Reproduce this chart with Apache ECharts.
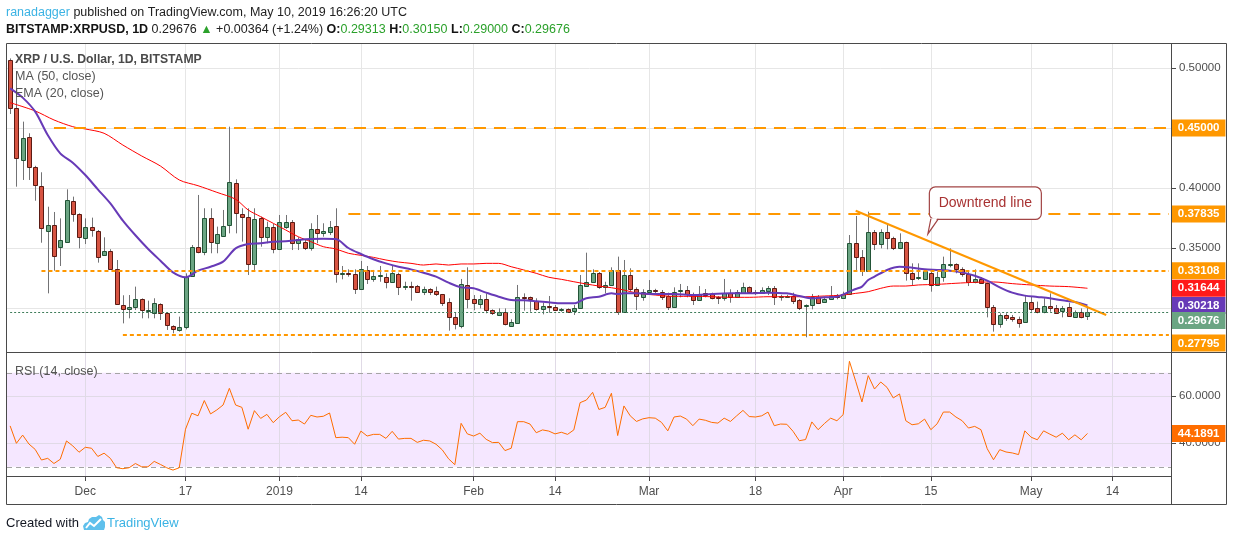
<!DOCTYPE html>
<html>
<head>
<meta charset="utf-8">
<script src="https://cdn.jsdelivr.net/npm/echarts@6/dist/echarts.min.js"></script>
<style>
  html, body { margin: 0; padding: 0; background: #fff; }
  #chart { width: 1234px; height: 541px; }
</style>
</head>
<body>
<div id="chart"></div>
<script>
// daily candles, BITSTAMP XRPUSD, 2018-11-19 .. 2019-05-10
const firstDay = '2018-11-19';
const dayCount = 186; // axis runs on past the last candle to 2019-05-23

const opens = [
  0.5067,0.4664,0.4233,0.4422,0.4178,0.4019,0.3644,0.3692,0.3511,0.3553,
  0.3892,0.3783,0.3581,0.3672,0.3644,0.3442,0.3478,0.3328,0.3025,0.2989,
  0.3011,0.3072,0.2983,0.2956,0.3031,0.2956,0.2850,0.2817,0.2839,0.3267,
  0.3511,0.3464,0.3747,0.3539,0.3600,0.3689,0.4039,0.3783,0.3761,0.3367,
  0.3747,0.3589,0.3672,0.3489,0.3678,0.3714,0.3544,0.3547,0.3503,0.3656,
  0.3622,0.3636,0.3683,0.3281,0.3289,0.3281,0.3156,0.3317,0.3239,0.3269,
  0.3261,0.3219,0.3281,0.3172,0.3183,0.3183,0.3136,0.3158,0.3142,0.3114,
  0.3050,0.2928,0.2850,0.3189,0.3072,0.3031,0.3072,0.2981,0.2944,0.2964,
  0.2853,0.2878,0.3089,0.3089,0.3061,0.2989,0.3017,0.3006,0.2983,0.2989,
  0.2978,0.3003,0.3186,0.3214,0.3289,0.3172,0.3189,0.3317,0.2964,0.3272,
  0.3156,0.3089,0.3131,0.3150,0.3131,0.3100,0.3006,0.3139,0.3150,0.3114,
  0.3064,0.3122,0.3114,0.3089,0.3081,0.3122,0.3094,0.3128,0.3172,0.3136,
  0.3128,0.3144,0.3164,0.3092,0.3094,0.3100,0.3067,0.3017,0.3022,0.3089,
  0.3047,0.3072,0.3106,0.3081,0.3114,0.3539,0.3422,0.3308,0.3631,0.3531,
  0.3631,0.3581,0.3497,0.3547,0.3289,0.3247,0.3244,0.3294,0.3189,0.3256,
  0.3364,0.3364,0.3322,0.3281,0.3219,0.3242,0.3206,0.3011,0.2864,0.2942,
  0.2928,0.2908,0.2881,0.3053,0.3003,0.2964,0.3019,0.2997,0.2975,0.3011,
  0.2928,0.2969,0.29313
];
const highs = [
  0.5080,0.4956,0.4553,0.4456,0.4185,0.4131,0.3844,0.3800,0.3747,0.3989,
  0.3928,0.3789,0.3747,0.3753,0.3650,0.3589,0.3490,0.3400,0.3106,0.3108,
  0.3178,0.3080,0.3061,0.3081,0.3039,0.2961,0.2856,0.2928,0.3289,0.3525,
  0.3942,0.3831,0.3831,0.3678,0.3817,0.4511,0.4072,0.3831,0.3831,0.3831,
  0.3761,0.3719,0.3700,0.3775,0.3775,0.3733,0.3590,0.3572,0.3706,0.3775,
  0.3706,0.3725,0.3831,0.3350,0.3322,0.3322,0.3392,0.3350,0.3317,0.3350,
  0.3289,0.3358,0.3294,0.3219,0.3219,0.3192,0.3178,0.3165,0.3178,0.3117,
  0.3081,0.2961,0.3242,0.3339,0.3108,0.3108,0.3122,0.2989,0.2997,0.2997,
  0.2906,0.3192,0.3122,0.3095,0.3081,0.3044,0.3100,0.3025,0.3000,0.2997,
  0.3025,0.3275,0.3461,0.3322,0.3300,0.3219,0.3339,0.3428,0.3400,0.3331,
  0.3172,0.3156,0.3233,0.3160,0.3150,0.3128,0.3172,0.3200,0.3183,0.3128,
  0.3183,0.3158,0.3128,0.3100,0.3242,0.3156,0.3150,0.3211,0.3180,0.3150,
  0.3172,0.3183,0.3183,0.3110,0.3110,0.3128,0.3075,0.3030,0.3117,0.3108,
  0.3094,0.3183,0.3117,0.3136,0.3608,0.3767,0.3483,0.3803,0.3650,0.3656,
  0.3706,0.3594,0.3622,0.3553,0.3372,0.3372,0.3322,0.3322,0.3303,0.3428,
  0.3497,0.3372,0.3339,0.3311,0.3322,0.3256,0.3211,0.3025,0.2956,0.2956,
  0.2942,0.2928,0.3108,0.3094,0.3053,0.3081,0.3122,0.3025,0.3017,0.3044,
  0.2980,0.2997,0.30150
];
const lows = [
  0.4617,0.4011,0.4067,0.4067,0.3894,0.3544,0.3122,0.3311,0.3350,0.3550,
  0.3719,0.3497,0.3533,0.3594,0.3378,0.3440,0.3320,0.3025,0.2872,0.2914,
  0.2983,0.2914,0.2914,0.2914,0.2900,0.2817,0.2789,0.2803,0.2822,0.3260,
  0.3456,0.3440,0.3456,0.3456,0.3594,0.3622,0.3622,0.3553,0.3275,0.3317,
  0.3511,0.3539,0.3456,0.3483,0.3660,0.3483,0.3483,0.3483,0.3478,0.3539,
  0.3594,0.3608,0.3211,0.3239,0.3261,0.3117,0.3150,0.3200,0.3219,0.3219,
  0.3164,0.3214,0.3108,0.3150,0.3061,0.3128,0.3108,0.3108,0.3100,0.3017,
  0.2811,0.2822,0.2831,0.2997,0.2981,0.2997,0.2956,0.2942,0.2933,0.2855,
  0.2845,0.2867,0.2978,0.2969,0.2978,0.2947,0.2961,0.2975,0.2969,0.2961,
  0.2942,0.2997,0.3180,0.3211,0.3160,0.3122,0.3183,0.2942,0.2960,0.3136,
  0.2983,0.3061,0.3125,0.3108,0.3067,0.2983,0.3000,0.3089,0.3089,0.3025,
  0.3061,0.3089,0.3072,0.3033,0.3061,0.3044,0.3089,0.3122,0.3122,0.3108,
  0.3122,0.3108,0.3025,0.3061,0.3085,0.3033,0.2983,0.2756,0.2989,0.3033,
  0.3044,0.3069,0.3072,0.3078,0.3111,0.3311,0.3267,0.3300,0.3483,0.3497,
  0.3489,0.3483,0.3490,0.3228,0.3192,0.3233,0.3233,0.3136,0.3183,0.3219,
  0.3339,0.3289,0.3261,0.3183,0.3206,0.3200,0.2922,0.2803,0.2836,0.2892,
  0.2886,0.2836,0.2878,0.2969,0.2956,0.2956,0.2969,0.2950,0.2922,0.2928,
  0.2925,0.2914,0.29000
];
const closes = [
  0.4664,0.4247,0.4414,0.4172,0.4025,0.3664,0.3692,0.3433,0.3567,0.3900,
  0.3783,0.3589,0.3672,0.3650,0.3428,0.3478,0.3322,0.3031,0.2989,0.3011,
  0.3072,0.2983,0.2986,0.3039,0.2961,0.2858,0.2822,0.2839,0.3261,0.3506,
  0.3469,0.3747,0.3547,0.3614,0.3686,0.4047,0.3789,0.3761,0.3367,0.3739,
  0.3594,0.3672,0.3489,0.3714,0.3714,0.3544,0.3572,0.3497,0.3656,0.3622,
  0.3642,0.3672,0.3281,0.3289,0.3281,0.3156,0.3322,0.3239,0.3269,0.3275,
  0.3214,0.3289,0.3172,0.3183,0.3178,0.3136,0.3158,0.3136,0.3114,0.3044,
  0.2928,0.2864,0.3197,0.3072,0.3044,0.3075,0.2983,0.2956,0.2969,0.2864,
  0.2881,0.3089,0.3081,0.3072,0.2989,0.3017,0.3006,0.2983,0.2992,0.2969,
  0.3003,0.3192,0.3217,0.3289,0.3172,0.3189,0.3317,0.2969,0.3275,0.3161,
  0.3100,0.3131,0.3150,0.3139,0.3094,0.3011,0.3136,0.3150,0.3114,0.3064,
  0.3117,0.3108,0.3081,0.3081,0.3122,0.3089,0.3131,0.3172,0.3136,0.3128,
  0.3150,0.3164,0.3089,0.3100,0.3103,0.3061,0.3003,0.3022,0.3089,0.3044,
  0.3072,0.3100,0.3089,0.3114,0.3539,0.3422,0.3308,0.3631,0.3531,0.3631,
  0.3581,0.3497,0.3547,0.3289,0.3242,0.3261,0.3311,0.3189,0.3258,0.3364,
  0.3369,0.3322,0.3281,0.3219,0.3242,0.3206,0.3011,0.2864,0.2939,0.2919,
  0.2906,0.2878,0.3047,0.2989,0.2964,0.3019,0.2997,0.2961,0.2997,0.2933,
  0.2969,0.2922,0.29676
];

// MA(50) and EMA(20) at these day indexes
const ma50Idx = [0,4,7,10,12,15,18,21,24,27,30,33,36,38,40,42,44,46,48,50,52,54,56,58,60,62,64,66,68,70,72,74,76,78,80,82,84,86,88,90,92,94,96,98,100,103,106,109,112,115,118,121,124,127,130,133,135,137,139,141,143,145,148,151,154,157,160,163,166,169,172];
const ma50Val = [0.4711,0.4642,0.4567,0.4511,0.4492,0.4456,0.4358,0.4267,0.4183,0.4067,0.4019,0.3964,0.3906,0.3817,0.3761,0.3706,0.3650,0.3594,0.3553,0.3511,0.3492,0.3456,0.3439,0.3422,0.3400,0.3383,0.3372,0.3358,0.3367,0.3358,0.3367,0.3367,0.3372,0.3372,0.3344,0.3317,0.3289,0.3256,0.3239,0.3219,0.3200,0.3183,0.3169,0.3150,0.3125,0.3108,0.3097,0.3097,0.3094,0.3089,0.3089,0.3094,0.3094,0.3094,0.3100,0.3108,0.3122,0.3136,0.3164,0.3183,0.3183,0.3192,0.3197,0.3206,0.3214,0.3217,0.3203,0.3192,0.3183,0.3178,0.31644];
const ema20Idx = [0,2,4,6,8,10,12,14,16,18,20,22,24,26,28,30,32,34,36,38,40,42,44,46,48,50,52,54,56,58,60,62,64,66,68,70,72,74,76,78,80,82,84,86,88,90,92,94,96,97,98,100,103,106,109,112,115,118,121,124,126,128,130,132,134,135,136,137,138,140,142,144,146,148,150,152,154,156,158,160,162,164,166,168,170,172];
const ema20Val = [0.4830,0.4753,0.4636,0.4442,0.4289,0.4211,0.4108,0.3989,0.3872,0.3728,0.3606,0.3494,0.3394,0.3297,0.3256,0.3311,0.3344,0.3386,0.3497,0.3533,0.3539,0.3553,0.3556,0.3567,0.3575,0.3578,0.3575,0.3500,0.3450,0.3406,0.3372,0.3344,0.3322,0.3294,0.3261,0.3211,0.3172,0.3164,0.3128,0.3094,0.3067,0.3064,0.3056,0.3047,0.3039,0.3039,0.3081,0.3094,0.3122,0.3117,0.3122,0.3122,0.3117,0.3117,0.3108,0.3117,0.3122,0.3122,0.3128,0.3122,0.3100,0.3081,0.3089,0.3094,0.3136,0.3158,0.3178,0.3233,0.3261,0.3317,0.3344,0.3336,0.3322,0.3317,0.3311,0.3297,0.3269,0.3228,0.3172,0.3128,0.3103,0.3092,0.3081,0.3064,0.3050,0.30218];

// RSI(14), one per candle
const rsiVal = [
  47.4,40,43.5,39.7,37.4,32.9,33.6,31.4,33.2,41,
  38.9,36.2,38.3,37.9,34.4,35.8,33.6,29.6,29.2,29.6,
  31.4,30,30,32.3,31,29.6,28.6,29.6,46,52.8,
  51.7,58.2,52.5,54.2,56.3,63.4,56.3,55.3,46,53.9,
  50.6,52.3,48.8,51.3,53.2,49.6,49.9,48.2,51.9,51.2,
  51.5,52.9,42.4,42.6,42.4,39.6,45.2,43.1,43.8,43.8,
  42.1,45.1,41.8,42.1,42.1,40.4,41.3,41,39.6,37.2,
  33.4,30.9,48.5,44,43.1,44.3,41.7,40.3,40.4,36.9,
  37.9,49.2,49.2,48.2,44.5,45.7,45.2,44,44.7,43.8,
  45.7,57.3,58.4,61.7,54.4,55.3,61.3,43.3,55.9,51.7,
  49.3,50.4,50.9,50.7,48.9,45.3,51.2,51.6,50.3,47.5,
  50.3,49.8,48.9,48.6,50.7,49.3,51.7,54,51.4,51.2,
  51.7,53.3,47.5,48.2,48.1,45.1,41.1,41.6,49.1,45.8,
  48.4,50.7,49.6,52.2,74.9,66.4,57.6,68.8,63.1,66.1,
  63.8,59.3,61,49.6,47.9,48.3,50.3,45.8,48.3,53.3,
  53.3,51.2,49.6,46.5,47.2,45.8,37.7,33,37.3,36.3,
  35.9,35.2,45.3,42.6,41.5,45.3,43.9,42.6,44.3,41.5,
  43.6,41.5,44.1891
];

// horizontal levels drawn on the chart, and where each one starts
const levelValues = [0.45, 0.37835, 0.33108, 0.27795];
const levelStarts = ['2018-11-26', '2019-01-12', '2018-11-24', '2018-12-07'];
const trendStart = ['2019-04-03', 0.381];
const trendEnd = ['2019-05-13', 0.2942];
const calloutAt = ['2019-04-15', 0.3617];

const tickDates = ['2018-12-01','2018-12-17','2019-01-01','2019-01-14','2019-02-01','2019-02-14','2019-03-01','2019-03-18','2019-04-01','2019-04-15','2019-05-01','2019-05-14'];
const tickLabels = ['Dec','17','2019','14','Feb','14','Mar','18','Apr','15','May','14'];
const priceTicks = [0.30, 0.35, 0.40, 0.45, 0.50];
const rsiTicks = [40, 60];

// ---------------------------------------------------------------
const FONT = "'Liberation Sans', Arial, sans-serif";
const dates = [];
{
  const d0 = new Date(firstDay + 'T00:00:00Z');
  for (let i = 0; i < dayCount; i++) {
    const d = new Date(d0.getTime() + i * 86400000);
    dates.push(d.toISOString().slice(0, 10));
  }
}
const lastIdx = closes.length - 1;
const lastDate = dates[dates.length - 1];
const isTick = (idx, value) => tickDates.indexOf(value) >= 0;

const candleData = closes.map((c, i) => [i, opens[i], c, lows[i], highs[i]]);
const ma50Data = ma50Idx.map((d, k) => [dates[d], ma50Val[k]]);
const ema20Data = ema20Idx.map((d, k) => [dates[d], ema20Val[k]]);
const maLast = ma50Val[ma50Val.length - 1];
const emaLast = ema20Val[ema20Val.length - 1];
const rsiLast = rsiVal[rsiVal.length - 1];

function boxLabel(bg, text, valign) {
  return {
    show: true, position: 'end', distance: 3, formatter: text,
    color: '#fff', backgroundColor: bg, padding: [3, 6, 2, 6],
    fontFamily: FONT, fontSize: 11.5, fontWeight: 'bold',
    verticalAlign: valign || 'middle'
  };
}
const hidden = { color: 'rgba(0,0,0,0)', width: 1 };

const levelDash = [[12, 8], [12, 8], [4, 3], [4, 3]];
const gridLineStyle = { color: '#e6e6e6', width: 1, type: 'solid' };

const chart = echarts.init(document.getElementById('chart'));

const option = {
  animation: false,
  backgroundColor: '#ffffff',
  textStyle: { fontFamily: FONT },
  grid: [
    { left: 7, top: 43, width: 1165, height: 310 },
    { left: 7, top: 353, width: 1165, height: 124 }
  ],
  xAxis: [
    {
      type: 'category', gridIndex: 0, data: dates, boundaryGap: true,
      axisLine: { show: false }, axisTick: { show: false },
      axisLabel: { show: false }, splitLine: { show: false }
    },
    {
      type: 'category', gridIndex: 1, data: dates, boundaryGap: true,
      axisLine: { show: false },
      axisTick: { show: true, alignWithLabel: true, interval: isTick, length: 4, lineStyle: { color: '#4a4a4a' } },
      axisLabel: {
        interval: isTick, formatter: v => tickLabels[tickDates.indexOf(v)],
        color: '#4f4f4f', fontSize: 12, margin: 9, fontFamily: FONT
      },
      splitLine: { show: false }
    }
  ],
  yAxis: [
    {
      type: 'value', gridIndex: 0, position: 'right', min: 0.2625, max: 0.52083,
      axisLine: { show: false },
      axisTick: { show: true, length: 4, customValues: priceTicks, lineStyle: { color: '#4a4a4a' } },
      axisLabel: { customValues: priceTicks, formatter: v => v.toFixed(5), color: '#4f4f4f', fontSize: 11.5, margin: 7, fontFamily: FONT },
      splitLine: { show: false }
    },
    {
      type: 'value', gridIndex: 1, position: 'right', min: 25.66, max: 78.43,
      axisLine: { show: false },
      axisTick: { show: true, length: 4, customValues: rsiTicks, lineStyle: { color: '#4a4a4a' } },
      axisLabel: { customValues: rsiTicks, formatter: v => v.toFixed(4), color: '#4f4f4f', fontSize: 11.5, margin: 7, fontFamily: FONT },
      splitLine: { show: false }
    }
  ],
  series: [
    {
      name: 'XRPUSD', type: 'custom', xAxisIndex: 0, yAxisIndex: 0, z: 2,
      encode: { x: 0, y: [1, 2, 3, 4] },
      data: candleData,
      renderItem: function (params, api) {
        const i = api.value(0);
        const o = api.value(1), c = api.value(2);
        const pO = api.coord([i, o]);
        const pC = api.coord([i, c]);
        const pL = api.coord([i, api.value(3)]);
        const pH = api.coord([i, api.value(4)]);
        const x = Math.round(pO[0]) + 0.5;
        const up = c >= o;
        const top = Math.round(Math.min(pO[1], pC[1])) + 0.5;
        const bot = Math.round(Math.max(pO[1], pC[1])) + 0.5;
        return {
          type: 'group',
          children: [
            { type: 'line', shape: { x1: x, y1: pH[1], x2: x, y2: pL[1] }, style: { stroke: '#737375', lineWidth: 1 } },
            {
              type: 'rect',
              shape: { x: x - 2, y: top, width: 4, height: Math.max(bot - top, 1) },
              style: { fill: up ? '#6ba583' : '#d75442', stroke: up ? '#225437' : '#5b1a13', lineWidth: 1 }
            }
          ]
        };
      },
      markLine: {
        silent: true, symbol: ['none', 'none'], z: 1, animation: false,
        label: { show: false },
        lineStyle: gridLineStyle,
        data: [
          ...tickDates.map(d => ({ xAxis: d })),
          ...priceTicks.map(v => ({ yAxis: v }))
        ]
      }
    },
    {
      name: 'MA (50, close)', type: 'line', xAxisIndex: 0, yAxisIndex: 0, z: 3,
      data: ma50Data, showSymbol: false, smooth: 0.3,
      lineStyle: { color: '#ff0000', width: 1 },
      markLine: {
        silent: true, symbol: ['none', 'none'], z: 4, animation: false,
        label: { show: false },
        data: [
          ...levelValues.map((v, k) => [
            {
              coord: [levelStarts[k], v],
              lineStyle: { color: '#ff9800', width: 2, type: levelDash[k] },
              label: boxLabel('#ff9800', v.toFixed(5), k === 3 ? 'top' : 'middle')
            },
            { coord: [lastDate, v] }
          ]),
          [
            { coord: trendStart, lineStyle: { color: '#ff9800', width: 2, type: 'solid' }, label: { show: false } },
            { coord: trendEnd }
          ],
          [
            { coord: [dates[lastIdx], maLast], lineStyle: hidden, label: boxLabel('#ff1a1a', maLast.toFixed(5)) },
            { coord: [lastDate, maLast] }
          ]
        ]
      }
    },
    {
      name: 'EMA (20, close)', type: 'line', xAxisIndex: 0, yAxisIndex: 0, z: 3,
      data: ema20Data, showSymbol: false, smooth: 0.3,
      lineStyle: { color: '#673ab7', width: 2 },
      markLine: {
        silent: true, symbol: ['none', 'none'], z: 4, animation: false,
        label: { show: false },
        data: [
          [
            { coord: [dates[lastIdx], emaLast], lineStyle: hidden, label: boxLabel('#673ab7', emaLast.toFixed(5)) },
            { coord: [lastDate, emaLast] }
          ],
          [
            {
              coord: [dates[0], closes[lastIdx]],
              lineStyle: { color: '#3f7d5a', width: 1, type: [2, 2] },
              label: boxLabel('#6ba583', closes[lastIdx].toFixed(5), 'top')
            },
            { coord: [lastDate, closes[lastIdx]] }
          ]
        ]
      }
    },
    {
      name: 'RSI (14, close)', type: 'line', xAxisIndex: 1, yAxisIndex: 1, z: 3,
      data: rsiVal, showSymbol: false,
      lineStyle: { color: '#ff6d00', width: 1 },
      markArea: {
        silent: true, z: 1,
        itemStyle: { color: 'rgba(153, 21, 255, 0.1)' },
        data: [[{ yAxis: 30 }, { yAxis: 70 }]]
      },
      markLine: {
        silent: true, symbol: ['none', 'none'], z: 2, animation: false,
        label: { show: false },
        lineStyle: { color: '#e0dae6', width: 1, type: 'solid' },
        data: [
          ...tickDates.map(d => ({ xAxis: d })),
          ...rsiTicks.map(v => ({ yAxis: v })),
          { yAxis: 70, lineStyle: { color: '#a5a5a5', width: 1, type: [5, 4] } },
          { yAxis: 30, lineStyle: { color: '#a5a5a5', width: 1, type: [5, 4] } },
          [
            { coord: [dates[lastIdx], rsiLast], lineStyle: hidden, label: boxLabel('#ff6d00', rsiLast.toFixed(4)) },
            { coord: [lastDate, rsiLast] }
          ]
        ]
      }
    }
  ]
};

chart.setOption(option);

// texts, frame and the callout (anchored to a data point)
const tip = chart.convertToPixel({ gridIndex: 0 }, [dates.indexOf(calloutAt[0]), calloutAt[1]]);
const tx = tip[0] - 3, ty = tip[1];

function text(x, y, str, size, fill, weight, rich) {
  const style = {
    text: str, fill: fill, fontFamily: FONT, fontSize: size, fontWeight: weight || 'normal',
    verticalAlign: 'middle', align: 'left'
  };
  if (rich) style.rich = rich;
  return { type: 'text', x: x, y: y, z: 60, style: style };
}

const green = '#2ba12b';
const graphics = [
  text(6, 13, '{u|ranadagger} {t|published on TradingView.com, May 10, 2019 16:26:20 UTC}', 12.5, '#222', 'normal', {
    u: { fill: '#3bb3e4', fontSize: 12.5, fontFamily: FONT },
    t: { fill: '#222', fontSize: 12.5, fontFamily: FONT }
  }),
  text(6, 30,
    '{b|BITSTAMP:XRPUSD, 1D} {t|' + closes[lastIdx].toFixed(5) + '} {g|\u25B2} {t|+0.00364 (+1.24%)} ' +
    '{b|O:}{v|' + opens[lastIdx].toFixed(5) + '} {b|H:}{v|' + highs[lastIdx].toFixed(5) + '} ' +
    '{b|L:}{v|' + lows[lastIdx].toFixed(5) + '} {b|C:}{v|' + closes[lastIdx].toFixed(5) + '}',
    12.5, '#222', 'normal', {
      b: { fill: '#131313', fontSize: 12.5, fontWeight: 'bold', fontFamily: FONT },
      t: { fill: '#222', fontSize: 12.5, fontFamily: FONT },
      g: { fill: green, fontSize: 12.5, fontFamily: FONT },
      v: { fill: green, fontSize: 12.5, fontFamily: FONT }
    }),
  text(15, 60, 'XRP / U.S. Dollar, 1D, BITSTAMP', 12.2, '#4a4a4a', 'bold'),
  text(15, 77, 'MA (50, close)', 12.5, '#555'),
  text(15, 94, 'EMA (20, close)', 12.5, '#555'),
  text(15, 372, 'RSI (14, close)', 12.5, '#555'),
  text(6, 523, 'Created with', 13, '#131722'),
  {
    type: 'polygon', z: 60,
    shape: { points: [[84, 530], [83, 526], [85, 523], [88, 522], [89, 519], [92, 517], [96, 517], [99, 515], [102, 517], [103, 520], [105, 522], [105, 527], [104, 530]] },
    style: { fill: '#5fc0ec' }
  },
  {
    type: 'polyline', z: 61,
    shape: { points: [[86, 528], [90, 523], [94, 526], [101, 519]] },
    style: { stroke: '#ffffff', lineWidth: 2 }
  },
  text(107, 523, 'TradingView', 13, '#3bb3e4'),

  // frame
  { type: 'rect', z: 50, shape: { x: 6.5, y: 43.5, width: 1220, height: 461 }, style: { fill: 'rgba(0,0,0,0)', stroke: '#4a4a4a', lineWidth: 1 } },
  { type: 'line', z: 50, shape: { x1: 1171.5, y1: 43.5, x2: 1171.5, y2: 504.5 }, style: { stroke: '#4a4a4a', lineWidth: 1 } },
  { type: 'line', z: 50, shape: { x1: 6.5, y1: 352.5, x2: 1226.5, y2: 352.5 }, style: { stroke: '#4a4a4a', lineWidth: 1 } },
  { type: 'line', z: 50, shape: { x1: 6.5, y1: 476.5, x2: 1171.5, y2: 476.5 }, style: { stroke: '#4a4a4a', lineWidth: 1 } },

  // callout
  { type: 'rect', z: 70, shape: { x: tx + 1.5, y: ty - 47, width: 112, height: 32.5, r: 6 }, style: { fill: '#fff', stroke: '#a24545', lineWidth: 1.2 } },
  { type: 'polygon', z: 71, shape: { points: [[tx + 3.5, ty - 15.6], [tx + 0.6, ty - 1], [tx + 9.5, ty - 15.6]] }, style: { fill: '#fff' } },
  { type: 'polyline', z: 72, shape: { points: [[tx + 3, ty - 15], [tx, ty], [tx + 10.5, ty - 15]] }, style: { stroke: '#a24545', lineWidth: 1.2 } },
  {
    type: 'text', z: 73, x: tx + 57.5, y: ty - 30.5,
    style: { text: 'Downtrend line', fill: '#a83232', fontFamily: FONT, fontSize: 14, align: 'center', verticalAlign: 'middle' }
  }
];

chart.setOption({ graphic: graphics });
</script>
</body>
</html>
